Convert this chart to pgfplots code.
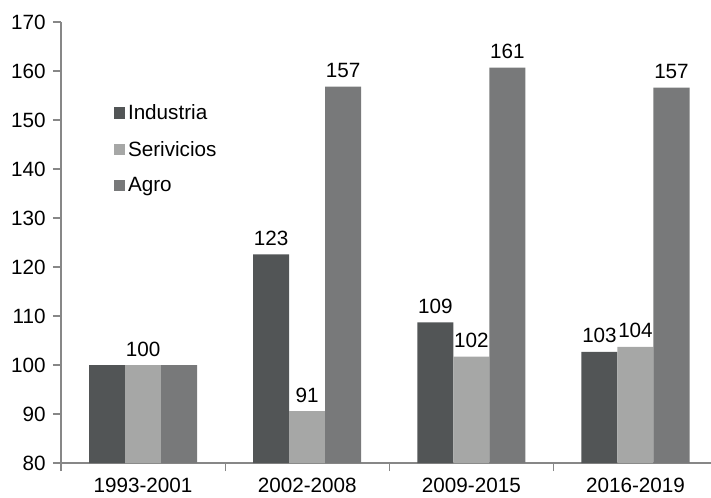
\documentclass[border=0pt]{standalone}
\usepackage{pgfplots}
\pgfplotsset{compat=1.18}
\usepackage{fontspec}
\setmainfont{Liberation Sans}
\definecolor{cInd}{HTML}{525556}
\definecolor{cSer}{HTML}{A6A7A6}
\definecolor{cAgr}{HTML}{78797A}
\definecolor{cAx}{HTML}{878787}
\begin{document}
\begin{tikzpicture}[x=1pt,y=1pt]
\begin{axis}[
  scale only axis,
  width=487.5pt, height=330.75pt,
  xmin=-0.5, xmax=3.46,
  ymin=80, ymax=170,
  ytick={80,90,...,170},
  axis lines=left,
  axis line style={-, draw=cAx, line width=0.9pt},
  tick style={draw=cAx, line width=0.9pt},
  tick align=outside,
  major tick length=6pt,
  yticklabel style={xshift=-2pt},
  xtick={-0.5,0.5,1.5,2.5},
  xticklabels={},
  extra x ticks={0,1,2,3},
  extra x tick labels={1993-2001,2002-2008,2009-2015,2016-2019},
  extra x tick style={major tick length=0pt, xticklabel style={yshift=-7.5pt}},
  font=\fontsize{15.5}{18}\selectfont,
  ticklabel style={font=\fontsize{15.5}{18}\selectfont},
  /pgf/number format/assume math mode=true,
  ybar=0pt,
  bar width=27pt,
  nodes near coords,
  point meta=explicit symbolic,
  every node near coord/.append style={font=\fontsize{15.5}{18}\selectfont, yshift=3pt, text=black},
  legend style={draw=none, fill=none, at={(axis description cs:0.075,0.825)}, anchor=north west,
    font=\fontsize{15.5}{18}\selectfont, row sep=10.5pt, cells={anchor=west}},
  legend image code/.code={\fill[#1] (0pt,-4pt) rectangle (8.5pt,4.5pt);},
]
\addplot[fill=cInd, draw=none] coordinates {(0,100) [] (1,122.6) [123] (2,108.7) [109] (3,102.7) [103]};
\addplot[fill=cSer, draw=none] coordinates {(0,100) [100] (1,90.6) [91] (2,101.7) [102] (3,103.7) [104]};
\addplot[fill=cAgr, draw=none] coordinates {(0,100) [] (1,156.8) [157] (2,160.7) [161] (3,156.6) [157]};
\legend{Industria,Serivicios,Agro}
\end{axis}
\pgfresetboundingbox
\path[use as bounding box] (-45.75pt,-25.5pt) rectangle (487.5pt,347.25pt);
\end{tikzpicture}
\end{document}
